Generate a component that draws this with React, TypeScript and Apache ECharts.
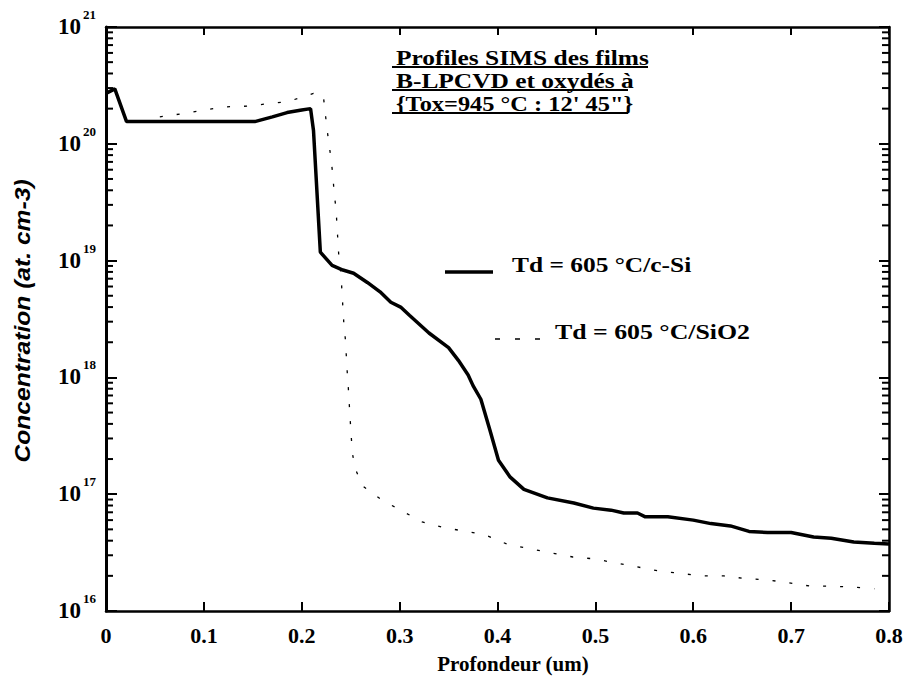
import React, { useEffect, useRef } from "react";
import * as echarts from "echarts";

// Profondeur (um) and concentration (at. cm-3) — B-LPCVD film on c-Si
const depthSi = [0, 0.009, 0.021, 0.08, 0.152, 0.17, 0.185, 0.2, 0.209, 0.212, 0.219, 0.231, 0.242, 0.253, 0.267, 0.28, 0.291, 0.301, 0.31, 0.33, 0.35, 0.36, 0.37, 0.375, 0.383, 0.392, 0.401, 0.413, 0.427, 0.451, 0.478, 0.498, 0.516, 0.529, 0.543, 0.551, 0.574, 0.6, 0.618, 0.638, 0.657, 0.676, 0.7, 0.723, 0.741, 0.764, 0.785, 0.8];
const concSi = [2.7e20, 2.95e20, 1.55e20, 1.55e20, 1.55e20, 1.7e20, 1.85e20, 1.95e20, 2.0e20, 1.3e20, 1.18e19, 9.1e18, 8.3e18, 7.8e18, 6.5e18, 5.4e18, 4.4e18, 4.0e18, 3.4e18, 2.4e18, 1.8e18, 1.4e18, 1.05e18, 8.5e17, 6.5e17, 3.6e17, 1.95e17, 1.4e17, 1.1e17, 9.3e16, 8.4e16, 7.6e16, 7.3e16, 6.9e16, 6.9e16, 6.4e16, 6.4e16, 6.0e16, 5.6e16, 5.35e16, 4.8e16, 4.7e16, 4.7e16, 4.3e16, 4.2e16, 3.9e16, 3.8e16, 3.75e16];

// B-LPCVD film on SiO2
const depthSiO2 = [0.055, 0.076, 0.12, 0.144, 0.165, 0.186, 0.212, 0.222, 0.226, 0.228, 0.23, 0.232, 0.233, 0.235, 0.236, 0.237, 0.238, 0.24, 0.241, 0.242, 0.243, 0.2445, 0.2455, 0.2465, 0.2476, 0.2486, 0.2496, 0.2506, 0.2517, 0.2547, 0.262, 0.282, 0.323, 0.344, 0.387, 0.411, 0.477, 0.498, 0.541, 0.565, 0.586, 0.61, 0.631, 0.652, 0.675, 0.698, 0.72, 0.743, 0.764, 0.785];
const concSiO2 = [1.7e20, 1.8e20, 2.07e20, 2.1e20, 2.2e20, 2.3e20, 2.7e20, 2.6e20, 1.3e20, 9.8e19, 7.3e19, 5.2e19, 3.8e19, 2.8e19, 2.0e19, 1.44e19, 1.05e19, 7.8e18, 5.6e18, 4.0e18, 2.9e18, 2.15e18, 1.55e18, 1.1e18, 8.1e17, 5.8e17, 4.2e17, 3.1e17, 2.25e17, 1.65e17, 1.18e17, 8.9e16, 5.8e16, 5.2e16, 4.5e16, 3.7e16, 2.9e16, 2.8e16, 2.4e16, 2.2e16, 2.1e16, 2.0e16, 2.0e16, 1.9e16, 1.85e16, 1.74e16, 1.63e16, 1.63e16, 1.6e16, 1.55e16];

const xMin = 0;
const xMax = 0.8;
const xStep = 0.1;
const yMin = 1e16;
const yMax = 1e21;
const decadeExponents = [16, 17, 18, 19, 20];
const minorMantissas = [2, 3, 4, 5, 6, 7, 8, 9];

const titleLines = ["Profiles SIMS des films", "B-LPCVD et oxydés à", "{Tox=945 °C : 12' 45\"}"];
const legendSi = "Td = 605 °C/c-Si";
const legendSiO2 = "Td = 605 °C/SiO2";
const xName = "Profondeur (um)";
const yName = "Concentration (at. cm-3)";

const SERIF = "'Liberation Serif', 'Times New Roman', serif";

export default function App() {
  const ref = useRef<HTMLDivElement>(null);
  useEffect(() => {
    if (!ref.current) return;
    const chart = echarts.init(ref.current, null, { renderer: "svg" });
    // minor log ticks: [x at the frame edge, value, side (0 = left, 1 = right)]
    const minorTicks: number[][] = [];
    decadeExponents.forEach((e) =>
      minorMantissas.forEach((m) => {
        minorTicks.push([xMin, m * Math.pow(10, e), 0]);
        minorTicks.push([xMax, m * Math.pow(10, e), 1]);
      })
    );

    const titleGraphics: any[] = [];
    const titleY = [58, 81, 104];
    const underlineEnd = [648, 628, 628];
    const titleScale = [1.27, 1.27, 1.22];
    titleLines.forEach((t, i) => {
      titleGraphics.push({
        type: "text", x: 396, y: titleY[i], scaleX: titleScale[i],
        style: { text: t, fontFamily: SERIF, fontWeight: "bold", fontSize: 20, fill: "#000", textAlign: "left", textVerticalAlign: "middle" },
      });
      titleGraphics.push({
        type: "line", shape: { x1: 392, y1: titleY[i] + 9, x2: underlineEnd[i], y2: titleY[i] + 9 },
        style: { stroke: "#000", lineWidth: 2 },
      });
    });

    const option: any = {
      animation: false,
      backgroundColor: "#fff",
      grid: { left: 106, right: 15, top: 27, bottom: 71, outerBoundsMode: "none" },
      xAxis: [
        {
          type: "value", min: xMin, max: xMax, interval: xStep, position: "bottom",
          axisLine: { show: true, onZero: false, lineStyle: { color: "#000", width: 2.5 } },
          axisTick: { show: true, inside: true, length: 9, lineStyle: { color: "#000", width: 2 } },
          axisLabel: {
            show: true, color: "#000", fontFamily: SERIF, fontWeight: "bold", fontSize: 22, margin: 13,
            formatter: (v: number) => (v === 0 ? "0" : v.toFixed(1)),
          },
          splitLine: { show: false },
        },
        {
          type: "value", min: xMin, max: xMax, interval: xStep, position: "top",
          axisLine: { show: true, onZero: false, lineStyle: { color: "#000", width: 2.5 } },
          axisTick: { show: true, inside: true, length: 8, lineStyle: { color: "#000", width: 2 } },
          axisLabel: { show: false },
          splitLine: { show: false },
        },
      ],
      yAxis: [
        {
          type: "log", logBase: 10, min: yMin, max: yMax, position: "left",
          axisLine: { show: true, onZero: false, lineStyle: { color: "#000", width: 3 } },
          axisTick: { show: true, inside: true, length: 11, lineStyle: { color: "#000", width: 2 } },
          axisLabel: {
            show: true, margin: 10,
            formatter: (v: number) => `{b|10}{s|${Math.round(Math.log10(v))}}`,
            rich: {
              b: { fontFamily: SERIF, fontWeight: "bold", fontSize: 23, color: "#000", lineHeight: 22, verticalAlign: "bottom" },
              s: { fontFamily: SERIF, fontWeight: "bold", fontSize: 13, color: "#000", lineHeight: 13, padding: [0, 0, 17, 2], verticalAlign: "bottom" },
            },
          },
          splitLine: { show: false },
        },
        {
          type: "log", logBase: 10, min: yMin, max: yMax, position: "right",
          axisLine: { show: true, onZero: false, lineStyle: { color: "#000", width: 2.5 } },
          axisTick: { show: true, inside: true, length: 10, lineStyle: { color: "#000", width: 2 } },
          axisLabel: { show: false },
          splitLine: { show: false },
        },
      ],
      series: [
        {
          name: legendSiO2, type: "line", showSymbol: false,
          lineStyle: { color: "#000", width: 1.3, type: [3, 14] },
          data: depthSiO2.map((d, i) => [d, concSiO2[i]]),
        },
        {
          name: legendSi, type: "line", showSymbol: false,
          lineStyle: { color: "#000", width: 3.5 },
          data: depthSi.map((d, i) => [d, concSi[i]]),
        },
        {
          type: "custom", clip: false, silent: true,
          encode: { x: 0, y: 1 },
          data: minorTicks,
          renderItem: (_p: any, api: any) => {
            const p = api.coord([api.value(0), api.value(1)]);
            const dir = api.value(2) === 0 ? 1 : -1;
            return {
              type: "line",
              shape: { x1: p[0], y1: p[1], x2: p[0] + dir * 7, y2: p[1] },
              style: { stroke: "#000", lineWidth: 2 },
            };
          },
        },
      ],
      graphic: [
        ...titleGraphics,
        { type: "line", shape: { x1: 445, y1: 272, x2: 493, y2: 272 }, style: { stroke: "#000", lineWidth: 3.5 } },
        {
          type: "text", x: 512, y: 265, scaleX: 1.24,
          style: { text: legendSi, fontFamily: SERIF, fontWeight: "bold", fontSize: 20.5, fill: "#000", textAlign: "left", textVerticalAlign: "middle" },
        },
        { type: "line", shape: { x1: 495, y1: 339, x2: 542, y2: 339 }, style: { stroke: "#000", lineWidth: 1.3, lineDash: [5, 15] } },
        {
          type: "text", x: 555, y: 332, scaleX: 1.26,
          style: { text: legendSiO2, fontFamily: SERIF, fontWeight: "bold", fontSize: 20.5, fill: "#000", textAlign: "left", textVerticalAlign: "middle" },
        },
        {
          type: "text", x: 513, y: 664,
          style: { text: xName, fontFamily: SERIF, fontWeight: "bold", fontSize: 21, fill: "#000", textAlign: "center", textVerticalAlign: "middle" },
        },
        {
          type: "text", x: 22, y: 321, rotation: Math.PI / 2, scaleX: 1.12,
          style: { text: yName, fontFamily: "'Liberation Sans', Arial, sans-serif", fontStyle: "italic", fontWeight: "bold", fontSize: 22, fill: "#000", textAlign: "center", textVerticalAlign: "middle" },
        },
      ],
    };
    chart.setOption(option);
    return () => chart.dispose();
  }, []);
  return <div ref={ref} style={{ position: "fixed", left: 0, top: 0, width: 904, height: 682, background: "#fff" }} />;
}
